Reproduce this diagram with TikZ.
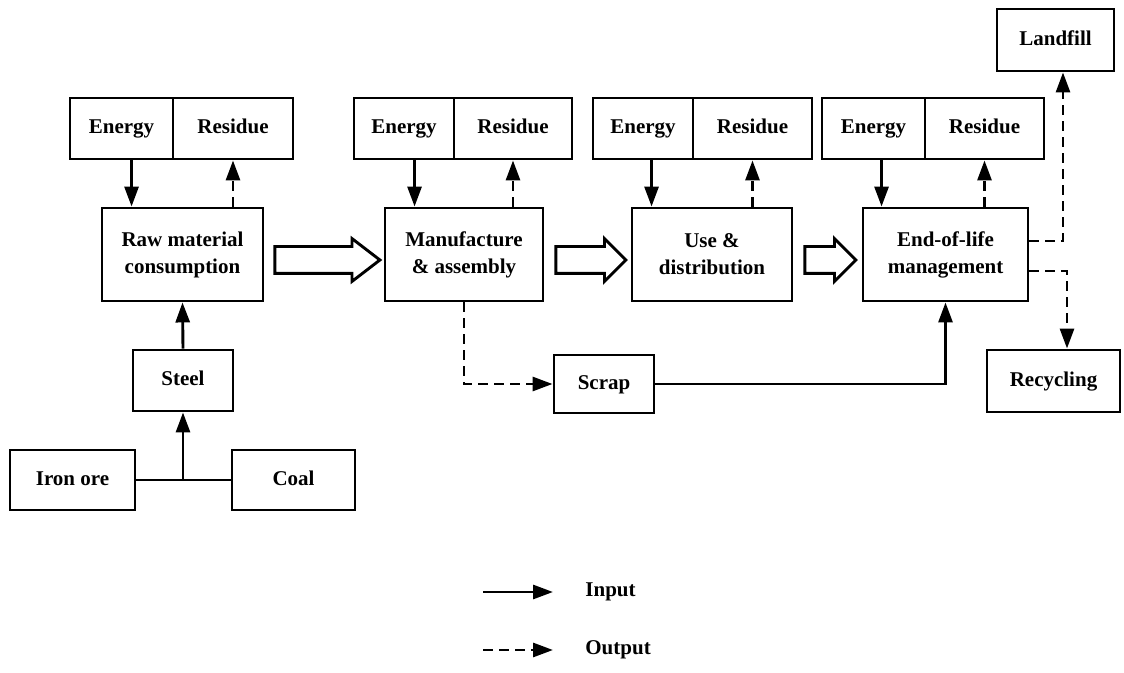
\documentclass[tikz,border=0pt]{standalone}
\usepackage{fontspec}
\setmainfont{Liberation Serif}
\usetikzlibrary{arrows.meta,shapes.arrows,calc}
\begin{document}
\begin{tikzpicture}[x=0.5pt,y=-0.5pt,
 lw/.style={line width=1.45pt},
 txt/.style={font=\bfseries\fontsize{10.5}{13.5}\selectfont},
 box/.style={draw,lw,rectangle,inner sep=0pt,align=center,txt},
 one/.style={text height=7.4pt,text depth=2.3pt},
 inp/.style={lw,-{Triangle[length=10pt,width=7pt]}},
 outp/.style={inp,dash pattern=on 5pt off 3pt},
 bigarr/.style={draw,lw,single arrow,single arrow head extend=4pt,inner sep=6pt,minimum width=20pt,anchor=west,line join=miter},
 lbl/.style={inner sep=0pt,anchor=west,txt}]
\useasboundingbox (0,0) rectangle (1124,673);
% energy / residue cells
\node[box,one,minimum width=51.5pt,minimum height=30.5pt] (e1) at (121.5,128.5) {Energy};
\node[box,one,minimum width=60pt,minimum height=30.5pt] (r1) at (233,128.5) {Residue};
\node[box,one,minimum width=50pt,minimum height=30.5pt] (e2) at (404,128.5) {Energy};
\node[box,one,minimum width=59pt,minimum height=30.5pt] (r2) at (513,128.5) {Residue};
\node[box,one,minimum width=50pt,minimum height=30.5pt] (e3) at (643,128.5) {Energy};
\node[box,one,minimum width=59.5pt,minimum height=30.5pt] (r3) at (752.5,128.5) {Residue};
\node[box,one,minimum width=51.5pt,minimum height=30.5pt] (e4) at (873.5,128.5) {Energy};
\node[box,one,minimum width=59.5pt,minimum height=30.5pt] (r4) at (984.5,128.5) {Residue};
% main stages
\node[box,minimum width=80.5pt,minimum height=46.5pt] (m1) at (182.5,254.5) {Raw material\\consumption};
\node[box,minimum width=79pt,minimum height=46.5pt] (m2) at (464,254.5) {Manufacture\\\& assembly};
\node[box,minimum width=80pt,minimum height=46.5pt] (m3) at (712,254.5) {Use \&\\distribution};
\node[box,minimum width=82.5pt,minimum height=46.5pt] (m4) at (945.5,254.5) {End-of-life\\management};
% others
\node[box,one,minimum width=50pt,minimum height=30.5pt] (steel) at (183,380.5) {Steel};
\node[box,one,minimum width=62.5pt,minimum height=30pt] (iron) at (72.5,480) {Iron ore};
\node[box,one,minimum width=61.5pt,minimum height=30pt] (coal) at (293.5,480) {Coal};
\node[box,one,minimum width=50pt,minimum height=29pt] (scrap) at (604,384) {Scrap};
\node[box,one,minimum width=58.5pt,minimum height=31pt] (landfill) at (1055.5,40) {Landfill};
\node[box,one,minimum width=66.5pt,minimum height=31pt] (recycling) at (1053.5,381) {Recycling};
% hollow flow arrows
\node[bigarr,minimum height=52.5pt,single arrow tip angle=75] (a12) at ([xshift=4.5pt,yshift=-2.75pt]m1.east) {};
\node[bigarr,minimum height=35pt] (a23) at ([xshift=5pt,yshift=-2.75pt]m2.east) {};
\node[bigarr,minimum height=25.5pt] (a34) at ([xshift=5pt,yshift=-2.75pt]m3.east) {};
% energy inputs
\draw[inp] ([xshift=15.5pt]e1.south -| m1.north west) -- ([xshift=15.5pt]m1.north west);
\draw[inp] ([xshift=15.5pt]e2.south -| m2.north west) -- ([xshift=15.5pt]m2.north west);
\draw[inp] ([xshift=10.5pt]e3.south -| m3.north west) -- ([xshift=10.5pt]m3.north west);
\draw[inp] ([xshift=10pt]e4.south -| m4.north west) -- ([xshift=10pt]m4.north west);
% residue outputs
\draw[outp] (r1.south |- m1.north) -- (r1.south);
\draw[outp] (r2.south |- m2.north) -- (r2.south);
\draw[outp] (r3.south |- m3.north) -- (r3.south);
\draw[outp] (r4.south |- m4.north) -- (r4.south);
% raw material chain
\draw[lw] (iron.east) -- (coal.west);
\draw[inp] (steel.south |- iron.east) -- (steel.south);
\draw[inp] (steel.north) -- (m1.south);
% scrap loop
\draw[outp] (m2.south) |- (scrap.west);
\draw[inp] (scrap.east) -| (m4.south);
% end of life
\draw[outp] ([yshift=6.75pt]m4.east) -| ([xshift=3.75pt]landfill.south);
\draw[outp] ([yshift=-8.25pt]m4.east) -| ([xshift=6.75pt]recycling.north);
% legend
\node[lbl] (lin) at (585,592) {Input};
\node[lbl] (lout) at (585,650) {Output};
\coordinate (li0) at (483,592);
\coordinate (lo0) at (483,650);
\draw[inp] (li0) -- ([xshift=-16pt]lin.west);
\draw[outp] (lo0) -- ([xshift=-16pt]lout.west);
\end{tikzpicture}
\end{document}
